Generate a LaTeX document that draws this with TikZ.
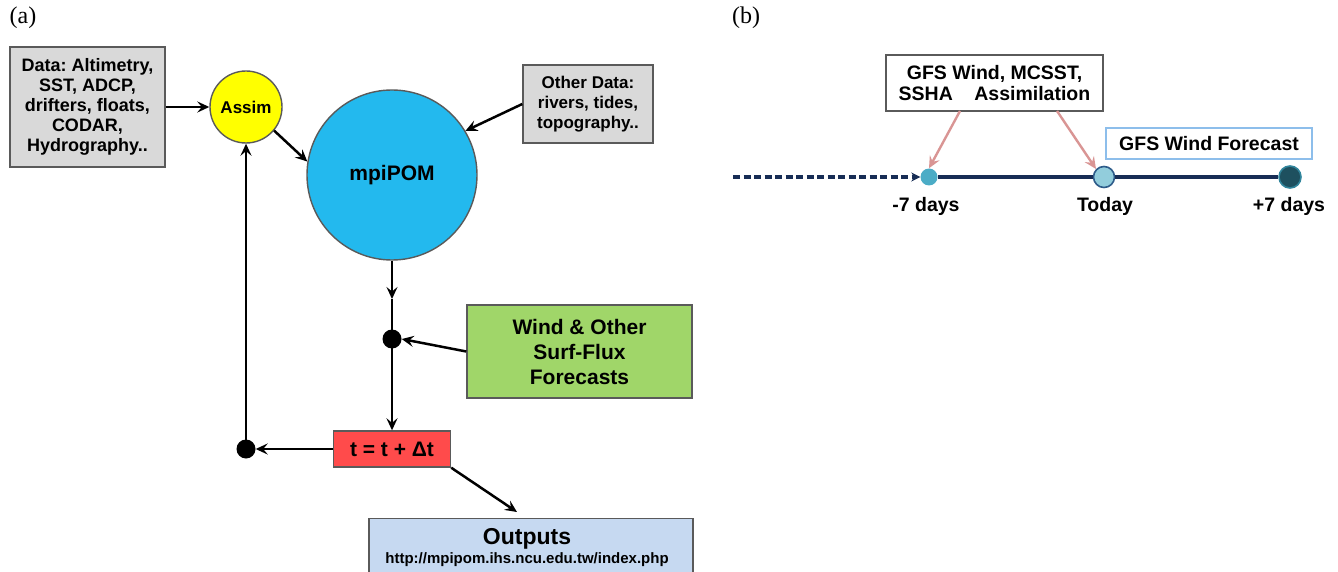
\documentclass[tikz,border=0pt]{standalone}
\usepackage{fontspec}
\newfontfamily\sansf{Liberation Sans}
\newfontfamily\seriff{Liberation Serif}
\usetikzlibrary{arrows.meta,calc}
\frenchspacing
\definecolor{boxgray}{RGB}{217,217,217}
\definecolor{edgegray}{RGB}{90,90,90}
\definecolor{assimyellow}{RGB}{255,255,0}
\definecolor{pomblue}{RGB}{35,185,238}
\definecolor{windgreen}{RGB}{160,214,105}
\definecolor{tred}{RGB}{255,75,75}
\definecolor{outblue}{RGB}{198,217,241}
\definecolor{navy}{RGB}{23,45,85}
\definecolor{pinkarr}{RGB}{217,149,148}
\definecolor{lightframe}{RGB}{141,190,235}
\definecolor{dotteal}{RGB}{75,172,198}
\definecolor{todayfill}{RGB}{146,205,220}
\definecolor{todayedge}{RGB}{46,92,138}
\definecolor{plusfill}{RGB}{30,80,95}
\definecolor{plusedge}{RGB}{49,133,156}
\tikzset{
  x=1pt,y=-1pt,
  arr/.style={line width=2.5pt,-{Stealth[length=12pt,width=11pt,inset=4.5pt]}},
  plainline/.style={line width=2.5pt},
  boxa/.style={draw=edgegray,line width=1.4pt,inner sep=0pt,align=center,font=\sansf\bfseries},
  blackdot/.style={circle,fill=black,minimum size=19pt,inner sep=0pt},
  pinkarrow/.style={draw=pinkarr,line width=2.4pt,-{Stealth[length=12pt,width=11pt,inset=4.5pt]}},
  lbl/.style={font=\sansf\bfseries\fontsize{19.5}{22}\selectfont,anchor=center}
}
\begin{document}
\begin{tikzpicture}
\useasboundingbox (0,0) rectangle (1338,572);
\clip (0,0) rectangle (1338,572);
% panel labels
\node[font=\seriff\fontsize{24}{28}\selectfont] (la) at (23,18) {(a)};
\node[font=\seriff\fontsize{24}{28}\selectfont] (lb) at (746,18) {(b)};
% (a) nodes
\node[boxa,fill=boxgray,minimum width=155pt,minimum height=120pt,font=\sansf\bfseries\fontsize{18}{20}\selectfont] (data) at (87.5,107)
  {Data: Altimetry,\\SST, ADCP,\\drifters, floats,\\CODAR,\\Hydrography..};
\node[boxa,circle,fill=assimyellow,minimum size=72pt,font=\sansf\bfseries\fontsize{17}{20}\selectfont] (assim) at (246,107) {Assim};
\node[boxa,circle,fill=pomblue,minimum size=170pt,font=\sansf\bfseries\fontsize{21}{24}\selectfont] (pom) at (392,175) {mpiPOM};
\node[boxa,fill=boxgray,minimum width=130pt,minimum height=78pt,font=\sansf\bfseries\fontsize{17}{20}\selectfont] (other) at (588,104)
  {Other Data:\\rivers, tides,\\topography..};
\node[blackdot] (dot1) at (392,339) {};
\node[boxa,fill=windgreen,minimum width=225pt,minimum height=93pt,font=\sansf\bfseries\fontsize{21}{25}\selectfont] (wind) at (579.5,351.5)
  {Wind \& Other\\Surf-Flux\\Forecasts};
\node[boxa,fill=tred,minimum width=117pt,minimum height=36pt,font=\sansf\bfseries\fontsize{21}{24}\selectfont] (tstep) at (392,449) {t = t + Δt};
\node[blackdot] (dot2) at (246,449) {};
\node[boxa,fill=outblue,minimum width=324pt,minimum height=70pt,anchor=north] (out) at (531,518) {};
\node[font=\sansf\bfseries\fontsize{23}{26}\selectfont] (outt) at (527,539) {Outputs};
\node[font=\sansf\bfseries\fontsize{15}{17}\selectfont] (url) at (527,560) {http://mpipom.ihs.ncu.edu.tw/index.php};
\coordinate (pomdown) at (392,299);
\coordinate (outtip) at (517,512);
% (a) connectors
\draw[arr] (data.east) -- (assim.west);
\draw[arr] (assim.-40) -- (pom.171);
\draw[arr] (other.west) -- (pom.31);
\draw[arr] (pom.south) -- (pomdown);
\draw[plainline] (pomdown) -- (dot1.center);
\draw[arr] (wind.west) -- (dot1.east);
\draw[arr] (dot1.center) -- (tstep.north);
\draw[arr] (tstep.west) -- (dot2.east);
\draw[arr] (dot2.center) -- (assim.south);
\draw[arr] (tstep.south east) -- (outtip);
% (b) timeline
\coordinate (dstart) at (733,177);
\node[circle,fill=dotteal,minimum size=17pt,inner sep=0pt] (m7) at (929,177) {};
\node[circle,fill=todayfill,draw=todayedge,line width=1.6pt,minimum size=21pt,inner sep=0pt] (today) at (1104,177) {};
\node[circle,fill=plusfill,draw=plusedge,line width=1.6pt,minimum size=22pt,inner sep=0pt] (p7) at (1290,177) {};
\draw[navy,line width=3.2pt,dash pattern=on 7pt off 3.5pt,-{Stealth[length=9pt,width=9pt]}] (dstart) -- (m7.west);
\draw[navy,line width=3.2pt] (m7.east) -- (today.west);
\draw[navy,line width=3.2pt] (today.east) -- (p7.west);
\node[lbl] (lm7) at (926,206) {-7 days};
\node[lbl] (ltoday) at (1105,206) {Today};
\node[lbl] (lp7) at (1289,206) {+7 days};
\node[draw=edgegray,fill=white,line width=1.4pt,minimum width=217pt,minimum height=56pt,inner sep=0pt,align=center,font=\sansf\bfseries\fontsize{19.5}{21}\selectfont] (gfs) at (994.5,83)
  {GFS Wind, MCSST,\\SSHA\hspace{1.1em}Assimilation};
\node[draw=lightframe,fill=white,line width=1.8pt,minimum width=206pt,minimum height=31pt,inner sep=0pt,font=\sansf\bfseries\fontsize{19.5}{22}\selectfont] (fc) at (1209,143.5) {GFS Wind Forecast};
\coordinate (g1) at (960,111);
\coordinate (g2) at (1057,111);
\draw[pinkarrow] (g1) -- (m7.north);
\draw[pinkarrow] (g2) -- (today.north west);
\end{tikzpicture}
\end{document}
